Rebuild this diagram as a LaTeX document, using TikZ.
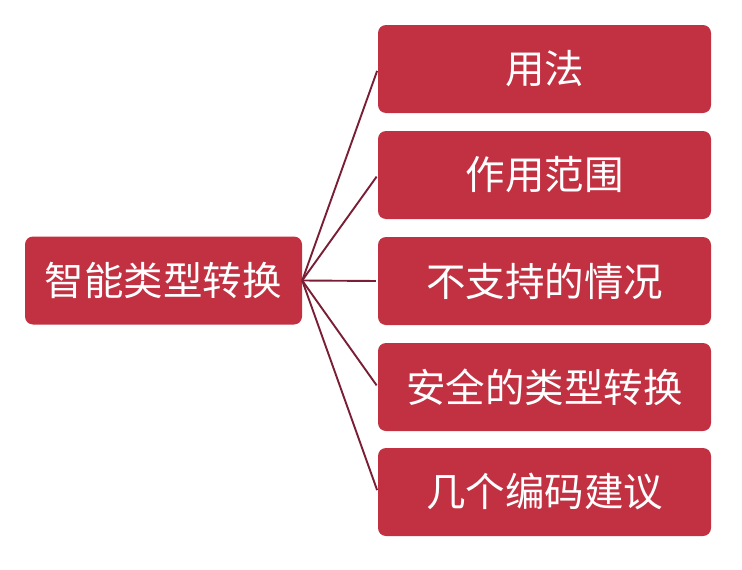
\documentclass[tikz,border=0pt]{standalone}
\usepackage{fontspec}
\setmainfont{Noto Sans CJK SC}
\definecolor{boxred}{RGB}{193,49,66}
\definecolor{linered}{RGB}{122,30,53}
\begin{document}
\begin{tikzpicture}[x=1pt,y=-1pt,
  box/.style={fill=boxred, rounded corners=8pt, text=white, inner sep=0pt,
    minimum height=88pt, font=\fontsize{39.5}{46}\selectfont},
  rootbox/.style={box, minimum width=277pt},
  leafbox/.style={box, minimum width=333pt},
  branch/.style={draw=linered, line width=1.9pt, shorten >=2pt}]
  \useasboundingbox (0,0) rectangle (742,570);
  \node[rootbox] (root) at (163.5,280.5) {智能类型转换};
  \node[leafbox] (usage) at (544.5,69) {用法};
  \node[leafbox] (scope) at (544.5,175) {作用范围};
  \node[leafbox] (unsupported) at (544.5,281) {不支持的情况};
  \node[leafbox] (safecast) at (544.5,387) {安全的类型转换};
  \node[leafbox] (advice) at (544.5,492) {几个编码建议};
  \draw[branch] (root.east) -- (usage.west);
  \draw[branch] (root.east) -- (scope.west);
  \draw[branch] (root.east) -- (unsupported.west);
  \draw[branch] (root.east) -- (safecast.west);
  \draw[branch] (root.east) -- (advice.west);
\end{tikzpicture}
\end{document}
